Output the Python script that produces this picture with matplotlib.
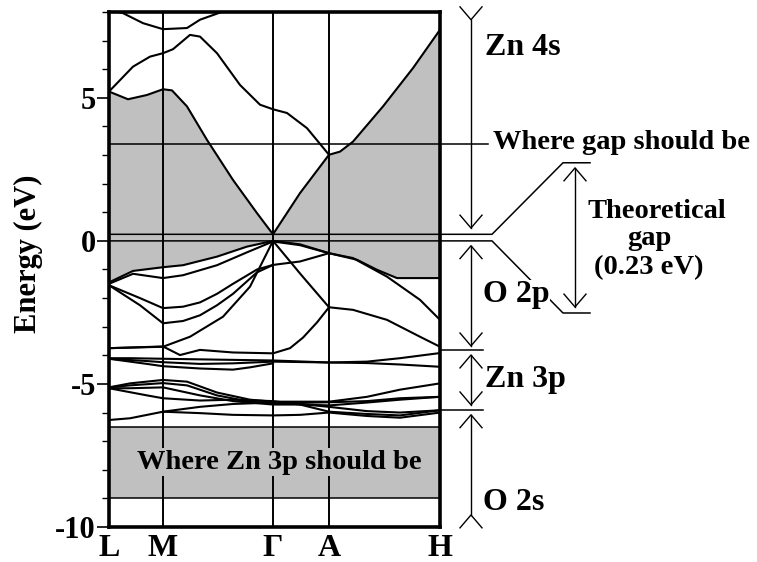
import matplotlib.pyplot as plt

plt.rcParams['font.family'] = ['Liberation Serif', 'DejaVu Serif']
plt.rcParams['font.weight'] = 'bold'
plt.rcParams['axes.unicode_minus'] = False

# high-symmetry points along the k path (path length units)
kpt_labels = ['L', 'M', 'Γ', 'A', 'H']
kpt_pos = [0, 54, 164, 220, 331]

# conduction bands (k, E in eV)
cb1_k = [0, 19, 38, 54, 63, 78, 98, 124, 148, 164, 191, 220, 231, 244, 274, 304, 331]
cb1_e = [5.22, 4.95, 5.10, 5.30, 5.26, 4.70, 3.53, 2.13, 0.97, 0.23, 1.67, 3.01, 3.12, 3.47, 4.70, 6.04, 7.38]
cb2_k = [0, 24, 41, 54, 64, 81, 91, 108, 131, 151, 164, 178, 198, 220]
cb2_e = [5.22, 6.09, 6.44, 6.56, 6.70, 7.20, 7.14, 6.56, 5.45, 4.76, 4.60, 4.47, 3.94, 3.01]
cb3_k = [0, 14, 34, 54, 78, 91, 111, 125]
cb3_e = [8.07, 7.96, 7.61, 7.40, 7.44, 7.73, 7.98, 8.20]

# O 2p valence bands
vb1_k = [0, 24, 54, 74, 108, 138, 164, 191, 220, 248, 268, 288, 331]
vb1_e = [-1.45, -1.05, -0.92, -0.85, -0.55, -0.20, 0.0, -0.12, -0.43, -0.66, -1.01, -1.30, -1.30]
vb2_k = [0, 24, 54, 74, 108, 138, 164, 191, 220, 244, 278, 311, 331]
vb2_e = [-1.50, -1.15, -1.30, -1.20, -0.85, -0.40, -0.02, -0.15, -0.43, -0.60, -1.25, -2.06, -2.76]
vb3_k = [0, 31, 54, 74, 91, 108, 124, 148, 164, 191, 220]
vb3_e = [-1.55, -2.00, -2.35, -2.30, -2.15, -1.85, -1.50, -1.00, -0.84, -0.72, -0.43]
vb4_k = [0, 31, 54, 74, 91, 108, 124, 148, 164]
vb4_e = [-1.55, -2.25, -2.88, -2.80, -2.60, -2.25, -1.85, -1.10, -0.84]
vb5_k = [0, 54, 81, 114, 141, 164, 192, 220, 244, 278, 311, 331]
vb5_e = [-3.75, -3.70, -3.35, -2.65, -1.60, 0.0, -1.18, -2.32, -2.41, -2.76, -3.35, -3.70]
vb6_k = [0, 54, 71, 91, 124, 164, 181, 194, 208, 220]
vb6_e = [-3.75, -3.69, -3.99, -3.81, -3.90, -3.93, -3.75, -3.38, -2.85, -2.32]

# Zn 3d bands
d1_k = [0, 21, 54, 108, 164, 220, 258, 291, 331]
d1_e = [-4.10, -4.10, -4.12, -4.15, -4.18, -4.25, -4.22, -4.10, -3.92]
d2_k = [0, 38, 54, 91, 124, 164, 220, 258, 291, 331]
d2_e = [-4.12, -4.20, -4.24, -4.30, -4.28, -4.22, -4.25, -4.27, -4.32, -4.40]
d3_k = [0, 38, 54, 91, 124, 141, 164]
d3_e = [-4.12, -4.30, -4.38, -4.46, -4.50, -4.42, -4.28]
g1_k = [0, 21, 54, 78, 108, 141, 164, 191, 220, 258, 291, 331]
g1_e = [-5.12, -4.98, -4.86, -4.92, -5.30, -5.55, -5.62, -5.62, -5.62, -5.45, -5.20, -4.98]
g2_k = [0, 21, 54, 78, 108, 141, 164, 191, 220, 258, 291, 331]
g2_e = [-5.12, -5.05, -4.97, -5.05, -5.40, -5.62, -5.68, -5.66, -5.64, -5.60, -5.50, -5.45]
g3_k = [0, 21, 54, 91, 124, 164, 191, 220, 258, 291, 331]
g3_e = [-5.15, -5.15, -5.12, -5.40, -5.60, -5.72, -5.72, -5.75, -5.65, -5.55, -5.45]
g4_k = [0, 38, 54, 91, 124, 164, 191, 220, 258, 291, 331]
g4_e = [-5.15, -5.40, -5.50, -5.58, -5.55, -5.60, -5.72, -5.97, -6.05, -6.10, -5.92]
g5_k = [0, 21, 54, 91, 124, 164, 191, 220, 258, 291, 331]
g5_e = [-6.26, -6.20, -5.97, -5.80, -5.70, -5.65, -5.70, -5.80, -5.95, -6.00, -5.92]
g6_k = [54, 91, 124, 164, 191, 220, 258, 291, 331]
g6_e = [-5.97, -6.02, -6.08, -6.10, -6.08, -6.00, -6.12, -6.18, -6.00]

bands = [(cb1_k, cb1_e), (cb2_k, cb2_e), (cb3_k, cb3_e),
         (vb1_k, vb1_e), (vb2_k, vb2_e), (vb3_k, vb3_e), (vb4_k, vb4_e),
         (vb5_k, vb5_e), (vb6_k, vb6_e),
         (d1_k, d1_e), (d2_k, d2_e), (d3_k, d3_e),
         (g1_k, g1_e), (g2_k, g2_e), (g3_k, g3_e), (g4_k, g4_e),
         (g5_k, g5_e), (g6_k, g6_e)]

gap_should_be = 3.4
gap_theory = 0.23
vbm = 0.0
zn3p_should_be = (-9.0, -6.5)

GRAY = '#c0c0c0'

fig = plt.figure(figsize=(7.57, 5.62), dpi=100)
ax = fig.add_axes([109 / 757, 1 - 527 / 562, 331 / 757, 515 / 562])
ax.set_xlim(kpt_pos[0], kpt_pos[-1])
ax.set_ylim(-10, 8)

# shaded region between valence band top and lowest conduction band
ax.fill(cb1_k + vb1_k[::-1], cb1_e + vb1_e[::-1], color=GRAY, lw=0, zorder=1)
ax.axhspan(zn3p_should_be[0], zn3p_should_be[1], color=GRAY, lw=0, zorder=1)
for e in zn3p_should_be:
    ax.axhline(e, color='k', lw=1.1, zorder=2)

for kp in kpt_pos[1:-1]:
    ax.axvline(kp, color='k', lw=1.4, zorder=2)

for k, e in bands:
    ax.plot(k, e, color='k', lw=1.5, zorder=3)

# horizontal reference lines, running out to the right-hand annotations
ax.plot([0, 379], [gap_should_be, gap_should_be], color='k', lw=1.1, clip_on=False, zorder=2)
ax.plot([0, 383, 454, 481], [gap_theory, gap_theory, 2.73, 2.73], color='k', lw=1.1, clip_on=False, zorder=2)
ax.plot([0, 383, 454, 481], [vbm, vbm, -2.52, -2.52], color='k', lw=1.1, clip_on=False, zorder=2)
for e in (-3.8, -5.9):
    ax.plot([331, 374], [e, e], color='k', lw=1.1, clip_on=False)


def head(x, tip, up):
    d = -0.45 if up else 0.45
    ax.plot([x - 11, x, x + 11], [tip + d, tip, tip + d], color='k', lw=1.0, clip_on=False)


def span_arrow(x, top, bottom, top_up=True, bottom_up=False):
    ax.plot([x, x], [top, bottom], color='k', lw=1.0, clip_on=False)
    head(x, top, top_up)
    head(x, bottom, bottom_up)


ax_x = 362
span_arrow(ax_x, 7.73, 0.45, top_up=False)
span_arrow(ax_x, -0.17, -3.67)
span_arrow(ax_x, -3.99, -5.73)
span_arrow(ax_x, -6.08, -9.58, bottom_up=True)
span_arrow(466, 2.55, -2.31)

ax.text(376, 6.75, 'Zn 4s', fontsize=23, va='center', ha='left')
ax.text(384, gap_should_be + 0.05, 'Where gap should be', fontsize=20.5, va='center', ha='left')
ax.text(548, 1.01, 'Theoretical', fontsize=20.5, va='center', ha='center')
ax.text(540, 0.10, 'gap', fontsize=20.5, va='center', ha='center')
ax.text(540, -0.94, '(%.2f eV)' % gap_theory, fontsize=20.5, va='center', ha='center')
ax.text(374, -1.89, 'O 2p', fontsize=23, va='center', ha='left', zorder=5,
        bbox=dict(facecolor='white', edgecolor='none', pad=0.5))
ax.text(376, -4.86, 'Zn 3p', fontsize=23, va='center', ha='left')
ax.text(374, -9.13, 'O 2s', fontsize=23, va='center', ha='left')
ax.text(170, -7.73, 'Where Zn 3p should be', fontsize=20.5, va='center', ha='center', zorder=5,
        bbox=dict(facecolor=GRAY, edgecolor='none', pad=1))

ax.set_xticks(kpt_pos)
ax.set_xticklabels(kpt_labels)
ax.set_yticks([-10, -5, 0, 5])
ax.set_yticks(range(-10, 9), minor=True)
ax.tick_params(axis='x', length=0, pad=5, labelsize=23)
ax.tick_params(axis='y', which='major', length=8.5, width=1.2, pad=1, labelsize=22)
ax.tick_params(axis='y', which='minor', length=5, width=1.0)
ax.set_ylabel('Energy (eV)', fontsize=22, fontweight='bold')
ax.yaxis.set_label_coords(-0.2, 0.53)
for s in ax.spines.values():
    s.set_linewidth(2.6)

fig.savefig('out.png', dpi=100)
